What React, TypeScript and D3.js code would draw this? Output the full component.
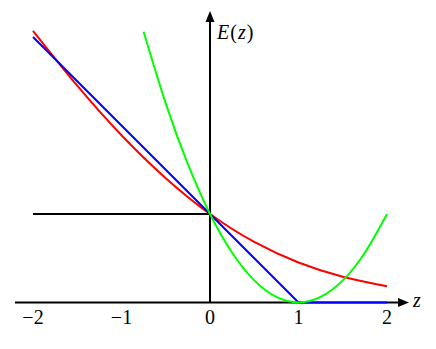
import React from "react";
import * as d3 from "d3";

const xTicks = [-2, -1, 0, 1, 2];
const xTickLabels = ["\u22122", "\u22121", "0", "1", "2"];

// values
const blueZ = [-2, 1, 2];
const blueE = [3, 0, 0];
const redZ = [-2, -1.5, -1, -0.5, 0, 0.5, 1, 1.5, 2];
const redE = [3.07, 2.45, 1.89, 1.405, 1, 0.684, 0.452, 0.291, 0.183];
const greenZ = [-0.75, -0.5, -0.25, 0, 0.25, 0.5, 0.75, 1, 1.25, 1.5, 1.75, 2];
const greenE = [3.06, 2.25, 1.5625, 1, 0.5625, 0.25, 0.0625, 0, 0.0625, 0.25, 0.5625, 1];
const blackZ = [-2, 0];
const blackE = [1, 1];

export default function App() {
  const W = 436, H = 349;
  const x = d3.scaleLinear().domain([-2, 2]).range([33, 387]);
  const y = d3.scaleLinear().domain([0, 3]).range([302.5, 37]);
  const mk = (zs: number[], es: number[], curve: d3.CurveFactory) =>
    d3.line<number>().x((_, i) => x(zs[i])).y((_, i) => y(es[i])).curve(curve)(zs) || "";
  const x0 = x(0), y0 = y(0);
  const font = "'Liberation Serif', 'DejaVu Serif', serif";
  return (
    <svg width={W} height={H} style={{ position: "absolute", left: 0, top: 0, background: "#fff" }}>
      {/* axes */}
      <line x1={15} x2={400} y1={y0} y2={y0} stroke="#000" strokeWidth={2} />
      <path d={`M${409},${y0} L${398},${y0 - 4.5} L${398},${y0 + 4.5} Z`} fill="#000" />
      <line x1={x0} x2={x0} y1={y0} y2={20} stroke="#000" strokeWidth={2} />
      <path d={`M${x0},${11} L${x0 - 4.5},${22} L${x0 + 4.5},${22} Z`} fill="#000" />
      {xTicks.map((t, i) => (
        <text key={t} x={x(t)} y={324} textAnchor="middle" fontFamily={font} fontSize={20} fill="#000">
          {xTickLabels[i]}
        </text>
      ))}
      <text x={413} y={307} fontFamily={font} fontSize={20} fontStyle="italic" fill="#000">z</text>
      <text x={217} y={39} fontFamily={font} fontSize={20} fill="#000" letterSpacing={1}>
        <tspan fontStyle="italic">E</tspan>(<tspan fontStyle="italic">z</tspan>)
      </text>
      <path d={mk(blackZ, blackE, d3.curveLinear)} fill="none" stroke="#000" strokeWidth={2} />
      <path d={mk(redZ, redE, d3.curveNatural)} fill="none" stroke="#ff0000" strokeWidth={2} />
      <path d={mk(blueZ, blueE, d3.curveLinear)} fill="none" stroke="#0000ff" strokeWidth={2} />
      <path d={mk(greenZ, greenE, d3.curveNatural)} fill="none" stroke="#00ff00" strokeWidth={2} />
    </svg>
  );
}
